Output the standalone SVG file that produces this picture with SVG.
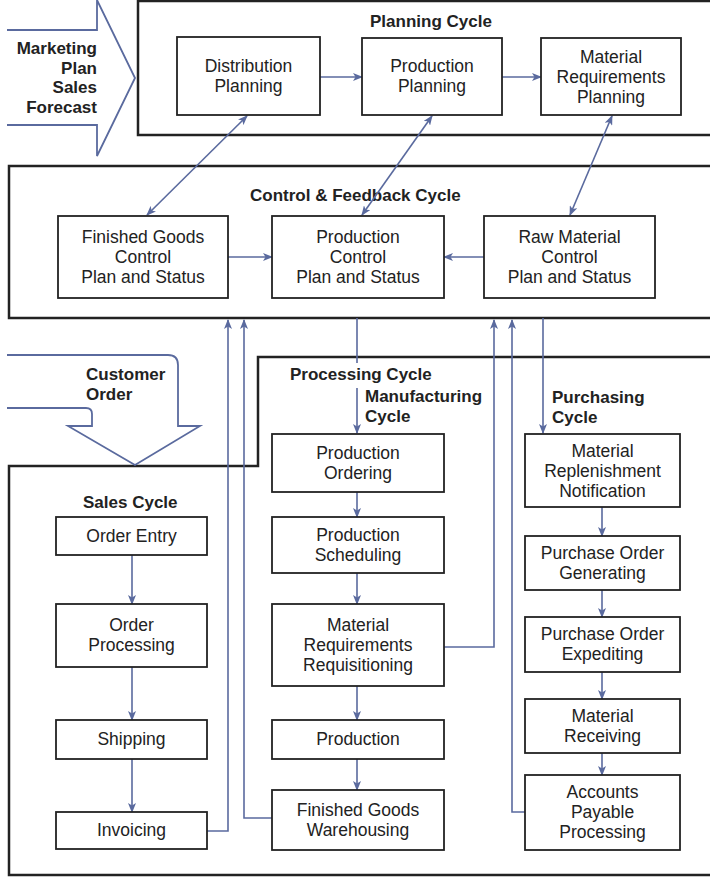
<svg xmlns="http://www.w3.org/2000/svg" width="710" height="877" viewBox="0 0 710 877">
<defs>
<marker id="ah" viewBox="0 0 10 8" refX="9" refY="4" markerWidth="10" markerHeight="8" markerUnits="userSpaceOnUse" orient="auto-start-reverse">
<path d="M0,0 L10,4 L0,8 L2.5,4 Z" fill="#5a6a9e"/>
</marker>
<style>
.node rect{fill:#fff;stroke:#222;stroke-width:1.8}
.node text,.lbl{font-family:"Liberation Sans",Arial,sans-serif;font-size:17.5px;fill:#222;text-anchor:middle}
.lbl{font-weight:bold;font-size:17px;text-anchor:start}
.frame{fill:none;stroke:#222;stroke-width:2.5}
.big{fill:#fff;stroke:#5a6a9e;stroke-width:1.8;stroke-linejoin:miter}
.conn path{fill:none;stroke:#5a6a9e;stroke-width:1.6;marker-end:url(#ah)}
.conn path.dbl{marker-start:url(#ah)}
</style>
</defs>
<rect width="710" height="877" fill="#fff"/>

<g id="frames">
<path class="frame" d="M712,1 H138 V135 H712"/>
<path class="frame" d="M712,166 H9 V318 H712"/>
<path class="frame" d="M712,357 H258 V466 H9 V875 H712"/>
</g>

<g id="marketing-input">
<path class="big" d="M7,30 H97 V0 L135,78 L97,156 V125 H7"/>
<text class="lbl" style="text-anchor:end" x="97" y="54">Marketing</text>
<text class="lbl" style="text-anchor:end" x="97" y="74">Plan</text>
<text class="lbl" style="text-anchor:end" x="97" y="93">Sales</text>
<text class="lbl" style="text-anchor:end" x="97" y="113">Forecast</text>
</g>

<g id="customer-order-input">
<path class="big" d="M7,355 H168 Q178,355 178,365 V426 H200 L135,465 L68,426 H92 V414 Q92,408 86,408 H7"/>
<text class="lbl" x="86" y="380">Customer</text>
<text class="lbl" x="86" y="400">Order</text>
</g>

<g id="labels">
<text class="lbl" x="370" y="27">Planning Cycle</text>
<text class="lbl" x="250" y="201">Control &amp; Feedback Cycle</text>
<text class="lbl" x="290" y="380">Processing Cycle</text>
<text class="lbl" x="365" y="402">Manufacturing</text>
<text class="lbl" x="365" y="422">Cycle</text>
<text class="lbl" x="552" y="403">Purchasing</text>
<text class="lbl" x="552" y="423">Cycle</text>
<text class="lbl" x="83" y="508">Sales Cycle</text>
</g>

<g id="connectors" class="conn">
<path d="M320,77 H362"/>
<path d="M502,77 H541"/>
<path class="dbl" d="M147,215 L247,116"/>
<path class="dbl" d="M362,215 L432,116"/>
<path class="dbl" d="M570,215 L612,116"/>
<path d="M228,257 H272"/>
<path d="M484,257 H444"/>
<path d="M357,318 V363 M357,388 V433"/>
<path d="M543,318 V433"/>
<path d="M207,831 H228 V320"/>
<path d="M272,818 H244 V320"/>
<path d="M444,647 H494 V320"/>
<path d="M525,812 H512 V320"/>
<path d="M132,555 V604"/>
<path d="M132,667 V720"/>
<path d="M132,759 V812"/>
<path d="M357,492 V517"/>
<path d="M357,573 V604"/>
<path d="M357,686 V720"/>
<path d="M357,759 V790"/>
<path d="M602,507 V536"/>
<path d="M602,590 V617"/>
<path d="M602,672 V699"/>
<path d="M602,753 V775"/>
</g>

<g id="distribution-planning" class="node"><rect x="177" y="37" width="143" height="78"/><text x="248.5" y="72">Distribution</text><text x="248.5" y="92">Planning</text></g>
<g id="production-planning" class="node"><rect x="362" y="38" width="140" height="77"/><text x="432" y="72">Production</text><text x="432" y="92">Planning</text></g>
<g id="material-requirements-planning" class="node"><rect x="541" y="38" width="140" height="77"/><text x="611" y="63">Material</text><text x="611" y="83">Requirements</text><text x="611" y="103">Planning</text></g>

<g id="finished-goods-control" class="node"><rect x="58" y="216" width="170" height="82"/><text x="143" y="243">Finished Goods</text><text x="143" y="263">Control</text><text x="143" y="283">Plan and Status</text></g>
<g id="production-control" class="node"><rect x="272" y="216" width="172" height="82"/><text x="358" y="243">Production</text><text x="358" y="263">Control</text><text x="358" y="283">Plan and Status</text></g>
<g id="raw-material-control" class="node"><rect x="484" y="216" width="171" height="82"/><text x="569.5" y="243">Raw Material</text><text x="569.5" y="263">Control</text><text x="569.5" y="283">Plan and Status</text></g>

<g id="order-entry" class="node"><rect x="56" y="517" width="151" height="38"/><text x="131.5" y="542">Order Entry</text></g>
<g id="order-processing" class="node"><rect x="56" y="604" width="151" height="63"/><text x="131.5" y="631">Order</text><text x="131.5" y="651">Processing</text></g>
<g id="shipping" class="node"><rect x="56" y="720" width="151" height="39"/><text x="131.5" y="745">Shipping</text></g>
<g id="invoicing" class="node"><rect x="56" y="812" width="151" height="37"/><text x="131.5" y="836">Invoicing</text></g>

<g id="production-ordering" class="node"><rect x="272" y="434" width="172" height="58"/><text x="358" y="459">Production</text><text x="358" y="479">Ordering</text></g>
<g id="production-scheduling" class="node"><rect x="272" y="517" width="172" height="56"/><text x="358" y="541">Production</text><text x="358" y="561">Scheduling</text></g>
<g id="material-requirements-requisitioning" class="node"><rect x="272" y="604" width="172" height="82"/><text x="358" y="631">Material</text><text x="358" y="651">Requirements</text><text x="358" y="671">Requisitioning</text></g>
<g id="production" class="node"><rect x="272" y="720" width="172" height="39"/><text x="358" y="745">Production</text></g>
<g id="finished-goods-warehousing" class="node"><rect x="272" y="790" width="172" height="60"/><text x="358" y="816">Finished Goods</text><text x="358" y="836">Warehousing</text></g>

<g id="material-replenishment-notification" class="node"><rect x="525" y="434" width="155" height="73"/><text x="602.5" y="457">Material</text><text x="602.5" y="477">Replenishment</text><text x="602.5" y="497">Notification</text></g>
<g id="purchase-order-generating" class="node"><rect x="525" y="536" width="155" height="54"/><text x="602.5" y="559">Purchase Order</text><text x="602.5" y="579">Generating</text></g>
<g id="purchase-order-expediting" class="node"><rect x="525" y="617" width="155" height="55"/><text x="602.5" y="640">Purchase Order</text><text x="602.5" y="660">Expediting</text></g>
<g id="material-receiving" class="node"><rect x="525" y="699" width="155" height="54"/><text x="602.5" y="722">Material</text><text x="602.5" y="742">Receiving</text></g>
<g id="accounts-payable-processing" class="node"><rect x="525" y="775" width="155" height="75"/><text x="602.5" y="798">Accounts</text><text x="602.5" y="818">Payable</text><text x="602.5" y="838">Processing</text></g>
</svg>
